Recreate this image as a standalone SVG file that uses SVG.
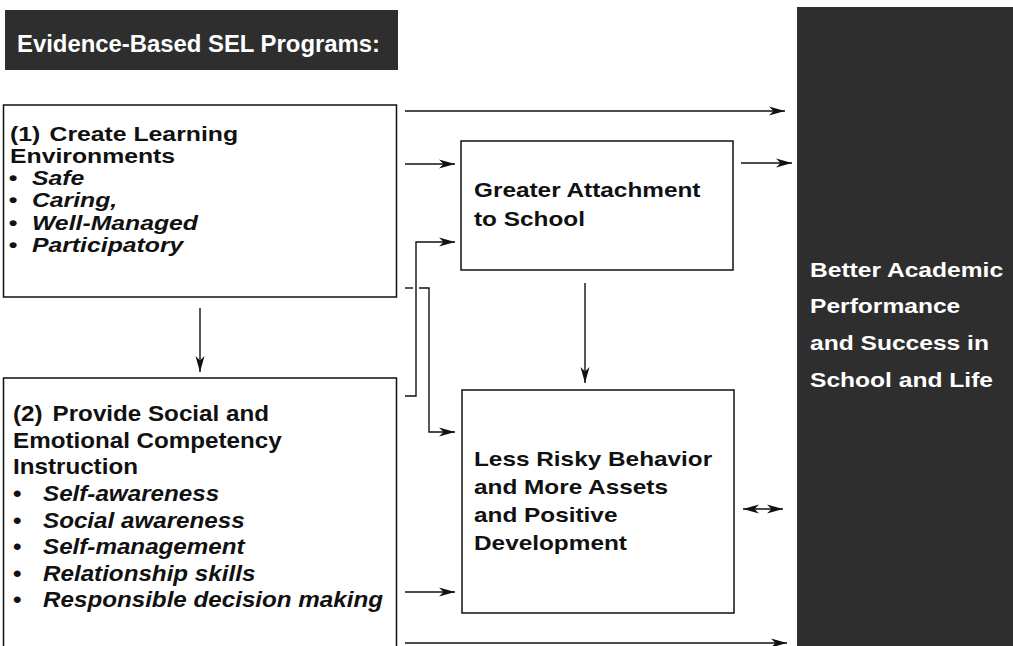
<svg xmlns="http://www.w3.org/2000/svg" width="1013" height="646" viewBox="0 0 1013 646">
<style>
.dark{fill:#2e2e2e}
.box{fill:#fff;stroke:#111;stroke-width:1.5}
.t{font-family:"Liberation Sans",Arial,sans-serif;font-weight:bold;fill:#111}
.w{fill:#fff}
.i{font-style:italic}
.conn{stroke:#111;stroke-width:1.4;fill:none}
</style>
<defs>
<marker id="ah" markerUnits="userSpaceOnUse" markerWidth="18" markerHeight="12" refX="16" refY="6" orient="auto-start-reverse">
<path d="M0,1.5 L16,6 L0,10.5 L4.5,6 z" fill="#111"/>
</marker>
</defs>
<rect width="1013" height="646" fill="#fff"/>

<g id="header">
<rect class="dark" x="5" y="10" width="393" height="60"/>
<text class="t w" x="17" y="52" font-size="23.5" textLength="363" lengthAdjust="spacingAndGlyphs">Evidence-Based SEL Programs:</text>
</g>

<g id="box1">
<rect class="box" x="3.5" y="105" width="393" height="192"/>
<g transform="translate(10 0) scale(1.18 1)" font-size="21">
<text class="t" x="0" y="141">(1) <tspan dx="2">Create Learning</tspan></text>
<text class="t" x="0" y="163">Environments</text>
<text class="t" x="-1" y="185">•</text><text class="t i" x="18.6" y="185">Safe</text>
<text class="t" x="-1" y="207">•</text><text class="t i" x="18.6" y="207">Caring,</text>
<text class="t" x="-1" y="230">•</text><text class="t i" x="18.6" y="230">Well-Managed</text>
<text class="t" x="-1" y="252">•</text><text class="t i" x="18.6" y="252">Participatory</text>
</g>
</g>

<g id="box2">
<rect class="box" x="3.5" y="378" width="393" height="300"/>
<g transform="translate(13 0) scale(1.1 1)" font-size="22">
<text class="t" x="0" y="421">(2) <tspan dx="3">Provide Social and</tspan></text>
<text class="t" x="0" y="448">Emotional Competency</text>
<text class="t" x="0" y="474">Instruction</text>
<text class="t" x="0" y="501">•</text><text class="t i" x="27.3" y="501">Self-awareness</text>
<text class="t" x="0" y="528">•</text><text class="t i" x="27.3" y="528">Social awareness</text>
<text class="t" x="0" y="554">•</text><text class="t i" x="27.3" y="554">Self-management</text>
<text class="t" x="0" y="581">•</text><text class="t i" x="27.3" y="581">Relationship skills</text>
<text class="t" x="0" y="607">•</text><text class="t i" x="27.3" y="607">Responsible decision making</text>
</g>
</g>

<g id="attachment">
<rect class="box" x="461" y="141" width="272" height="129"/>
<g transform="translate(474 0) scale(1.16 1)" font-size="21">
<text class="t" x="0" y="197">Greater Attachment</text>
<text class="t" x="0" y="226">to School</text>
</g>
</g>

<g id="behavior">
<rect class="box" x="462" y="390" width="272" height="223"/>
<g transform="translate(474 0) scale(1.16 1)" font-size="21">
<text class="t" x="0" y="466">Less Risky Behavior</text>
<text class="t" x="0" y="494">and More Assets</text>
<text class="t" x="0" y="522">and Positive</text>
<text class="t" x="0" y="550">Development</text>
</g>
</g>

<g id="outcome">
<rect class="dark" x="797" y="7" width="216" height="639"/>
<g transform="translate(810 0) scale(1.2 1)" font-size="20.5">
<text class="t w" x="0" y="277">Better Academic</text>
<text class="t w" x="0" y="313">Performance</text>
<text class="t w" x="0" y="350">and Success in</text>
<text class="t w" x="0" y="387">School and Life</text>
</g>
</g>

<g id="connectors">
<line class="conn" x1="405" y1="111" x2="785" y2="111" marker-end="url(#ah)"/>
<line class="conn" x1="405" y1="164" x2="455" y2="164" marker-end="url(#ah)"/>
<line class="conn" x1="741" y1="163" x2="792" y2="163" marker-end="url(#ah)"/>
<line class="conn" x1="200" y1="308" x2="200" y2="372" marker-end="url(#ah)"/>
<line class="conn" x1="585" y1="283" x2="585" y2="383" marker-end="url(#ah)"/>
<path class="conn" d="M405,396 H416 V242 H455" marker-end="url(#ah)"/>
<path class="conn" d="M405,288 H413"/>
<path class="conn" d="M419,288 H429 V432 H455" marker-end="url(#ah)"/>
<line class="conn" x1="405" y1="592" x2="455" y2="592" marker-end="url(#ah)"/>
<line class="conn" x1="743" y1="509" x2="783" y2="509" marker-start="url(#ah)" marker-end="url(#ah)"/>
<line class="conn" x1="405" y1="643" x2="787" y2="643" marker-end="url(#ah)"/>
</g>
</svg>
